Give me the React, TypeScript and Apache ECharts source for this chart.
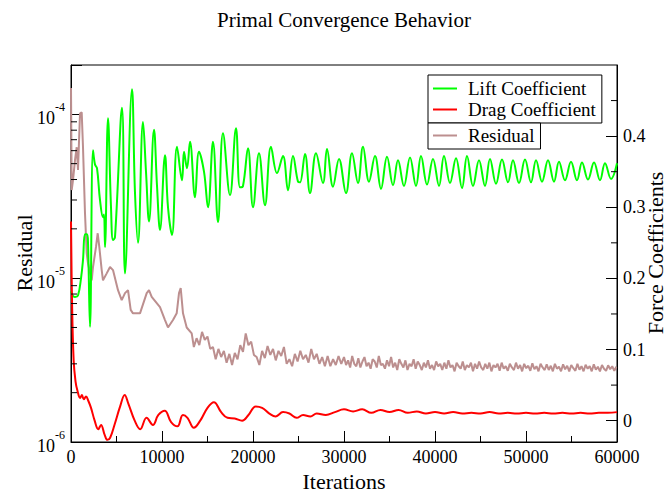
import React, { useEffect, useRef } from "react";
import * as echarts from "echarts";

// ---------- data ----------
const liftIter = [0,220,440,769,1099,1319,1538,1758,1868,2088,2418,2637,2857,3187,3516,3626,3736,4066,4396,4615,4835,5604,5934,6703,7033,7363,7912,8242,8571,9121,9451,9780,10330,10659,11099,11648,12198,12418,12747,13077,13626,14066,14615,15055,15604,16154,16703,17473,18132,18571,18901,19451,20000,20659,21319,21978,22637,23297,23846,24396,24945,25165,25714,26264,26923,27692,28132,28791,29451,30220,30879,31538,32088,32747,33407,34066,34725,35385,35934,36593,37253,37912,38462,39121,39780,40440,40989,41648,42308,42967,43516,44176,44835,45495,46044,46703,47363,48022,48571,49231,49890,50549,51099,51758,52418,53077,53626,54286,54945,55604,56154,56813,57473,58132,58681,59341,60000];
const liftVal = [0.182,0.175,0.174,0.176,0.2,0.226,0.262,0.262,0.25,0.132,0.38,0.36,0.355,0.31,0.286,0.29,0.244,0.425,0.3,0.254,0.258,0.44,0.207,0.466,0.32,0.25,0.42,0.35,0.28,0.409,0.33,0.268,0.373,0.3,0.261,0.385,0.338,0.378,0.355,0.392,0.314,0.378,0.35,0.3,0.392,0.279,0.404,0.317,0.411,0.328,0.33,0.383,0.3,0.376,0.303,0.385,0.348,0.372,0.324,0.372,0.336,0.335,0.375,0.32,0.376,0.334,0.382,0.329,0.368,0.32,0.376,0.334,0.385,0.336,0.372,0.326,0.371,0.331,0.366,0.33,0.37,0.33,0.372,0.332,0.368,0.33,0.372,0.334,0.369,0.327,0.372,0.33,0.366,0.33,0.368,0.333,0.367,0.335,0.366,0.334,0.367,0.335,0.366,0.336,0.366,0.336,0.364,0.338,0.364,0.338,0.363,0.339,0.363,0.338,0.362,0.34,0.362];

const dragIter = [0,110,290,500,710,1000,1200,1400,1650,1900,2200,2600,3000,3300,3700,4000,4300,4800,5400,5900,6300,7000,7600,8300,9000,9600,10300,11000,11700,12300,12800,13500,14200,15000,15700,16500,17200,18000,18800,19500,20300,21000,21800,22500,23300,24000,24800,25500,26300,27000,28000,29000,30000,31000,32000,33000,34000,35000,36000,37000,38000,39000,40000,41000,42000,43000,44000,45000,46000,47000,48000,49000,50000,51000,52000,53000,54000,55000,56000,57000,58000,59000,60000];
const dragVal = [0.28,0.17,0.085,0.055,0.042,0.032,0.036,0.03,0.034,0.028,0.018,0.0,-0.012,-0.006,-0.02,-0.027,-0.024,-0.005,0.02,0.036,0.024,0.0,-0.012,0.004,-0.006,0.008,0.014,-0.002,-0.008,0.008,0.004,-0.01,0.0,0.018,0.026,0.012,0.004,0.003,0.0,0.008,0.02,0.018,0.01,0.006,0.012,0.01,0.004,0.008,0.006,0.01,0.008,0.012,0.016,0.013,0.016,0.011,0.015,0.012,0.015,0.011,0.013,0.01,0.012,0.01,0.012,0.01,0.011,0.01,0.012,0.01,0.011,0.01,0.011,0.01,0.011,0.01,0.011,0.01,0.011,0.01,0.011,0.011,0.012];

const residualHeadIter = [0,77,220,440,626,770,990,1176,1319,1538,1725,1868,2275,2418,2747,2934,3110,3374,3516,3923,4286,4615,5165,5571,5934,6264,6560,6813,7582,8319,8571,8868,9780,10330,10659,11209,11615,11868,12055,12308,12714,13264];
const residualHeadVal = [1.45e-4,3.45e-5,3.96e-5,5.25e-5,6.3e-5,4.57e-5,1.01e-4,1.03e-4,6.3e-5,2.49e-5,1.42e-5,1.23e-5,9.7e-6,1.17e-5,1.55e-5,1.88e-5,1.55e-5,1.12e-5,9.7e-6,1.07e-5,1.17e-5,1.12e-5,8.45e-6,7.35e-6,8.1e-6,8.45e-6,6.4e-6,6.1e-6,6.1e-6,8.1e-6,8.45e-6,7.7e-6,6.65e-6,5.55e-6,5.0e-6,5.55e-6,6.1e-6,8.1e-6,8.7e-6,6.1e-6,5.0e-6,4.6e-6];
// middle part sampled every 300 iterations from 13500 (values in units of 1e-6)
const residualMidStart = 13500;
const residualMidStep = 300;
const residualMid = [3.8,4.3,3.9,4.7,4.2,4.4,3.7,3.8,3.2,3.7,3.3,3.6,3.05,3.45,2.95,3.5,3.2,3.9,3.55,4.6,3.9,4.1,3.4,3.3,2.95,3.6,3.25,3.85,3.4,3.7,3.15,3.6,3.35,3.8,3.0,3.2,2.9,3.45,3.1,3.6,3.2,3.4,3.05,3.7,3.2,3.45,3.0,3.3,2.9,3.35,2.9,3.2,2.95,3.35,3.0];
// tail sampled every 225 iterations from 30000 (values in units of 1e-6)
const residualTailStart = 30000;
const residualTailStep = 225;
const residualTail = [
  3.3,2.95,3.15,2.85,3.35,3.0,2.9,3.25,2.85,3.1,
  3.3,2.9,3.05,2.8,3.2,3.1,2.85,3.35,2.95,3.0,
  2.8,3.15,2.9,3.3,2.85,3.05,2.75,3.2,3.0,2.85,
  3.15,2.75,3.0,2.9,3.2,2.8,3.1,2.95,2.75,3.05,
  2.85,3.15,2.8,2.95,2.75,3.1,2.9,3.0,2.75,3.05,
  2.8,3.15,2.85,2.95,2.7,3.05,2.9,2.8,3.1,2.75,
  2.95,2.85,3.05,2.7,3.0,2.8,3.1,2.85,2.75,3.0,
  2.8,3.05,2.7,2.95,2.85,3.0,2.72,3.05,2.8,2.9,
  2.72,3.0,2.85,2.75,3.05,2.8,2.95,2.7,3.0,2.82,
  2.92,2.72,3.02,2.78,2.9,2.7,3.0,2.85,2.75,2.98,
  2.75,2.92,2.7,3.0,2.8,2.88,2.7,2.98,2.78,2.92,
  2.7,2.95,2.82,2.72,3.0,2.76,2.9,2.7,2.96,2.8,
  2.9,2.7,2.98,2.76,2.88,2.7,2.95,2.8,2.72,2.94,
  2.78,2.9,2.72,2.88,
];

const xTicks = [0, 10000, 20000, 30000, 40000, 50000, 60000];
const xMinorTicks = [5000, 15000, 25000, 35000, 45000, 55000];
const resMinorTicks = [2e-6,3e-6,4e-6,5e-6,6e-6,7e-6,8e-6,9e-6,2e-5,3e-5,4e-5,5e-5,6e-5,7e-5,8e-5,9e-5];
const forceMinorTicks = [0.05, 0.15, 0.25, 0.35, 0.45];

const SERIF = "Liberation Serif";

export default function App() {
  const ref = useRef<HTMLDivElement>(null);
  useEffect(() => {
    if (!ref.current) return;
    const chart = echarts.init(ref.current, undefined, { renderer: "svg" });

    const lift = liftIter.map((x, i) => [x, liftVal[i]]);
    const drag = dragIter.map((x, i) => [x, dragVal[i]]);
    const residual = residualHeadIter
      .map((x, i) => [x, residualHeadVal[i]])
      .concat(residualMid.map((v, i) => [residualMidStart + i * residualMidStep, v * 1e-6]))
      .concat(residualTail.map((v, i) => [residualTailStart + i * residualTailStep, v * 1e-6]));

    const tickLine = (len: number, dir: "up" | "right" | "left") =>
      (params: any, api: any) => {
        const p = api.coord([api.value(0), api.value(1)]);
        let x2 = p[0], y2 = p[1];
        if (dir === "up") y2 = p[1] - len;
        if (dir === "right") x2 = p[0] + len;
        if (dir === "left") x2 = p[0] - len;
        return { type: "line", shape: { x1: p[0], y1: p[1], x2, y2 }, style: { stroke: "#000", lineWidth: 1 } };
      };

    const isPow10 = (v: number) => {
      const l = Math.log10(v);
      return Math.abs(l - Math.round(l)) < 1e-6;
    };

    const txt = (size: number) => ({ fontFamily: SERIF, fontSize: size, fill: "#000", textAlign: "center", textVerticalAlign: "middle" });
    const legendText = { fontFamily: SERIF, fontSize: 19, color: "#000", lineHeight: 21, padding: [0, 0, 0, 6] };

    chart.setOption({
      animation: false,
      backgroundColor: "#fff",
      textStyle: { fontFamily: SERIF },
      grid: { left: 71, right: 53, top: 65, bottom: 54, show: true, borderColor: "#000", borderWidth: 1 },
      graphic: [
        { type: "text", x: 344, y: 20, style: { text: "Primal Convergence Behavior", ...txt(21) } },
        { type: "text", x: 344, y: 481, style: { text: "Iterations", ...txt(22) } },
        { type: "text", x: 24, y: 253, rotation: Math.PI / 2, style: { text: "Residual", ...txt(22) } },
        { type: "text", x: 655, y: 253, rotation: Math.PI / 2, style: { text: "Force Coefficients", ...txt(22) } },
      ],
      legend: [
        {
          data: ["Lift Coefficient", "Drag Coefficient"],
          orient: "vertical", left: 428, top: 75,
          icon: "rect", itemWidth: 24, itemHeight: 2, itemGap: 0,
          padding: [3, 6, 3, 5],
          borderColor: "#000", borderWidth: 1, borderRadius: 0, backgroundColor: "#fff",
          textStyle: legendText,
          selectedMode: false,
        },
        {
          data: ["Residual"],
          orient: "vertical", left: 428, top: 123,
          icon: "rect", itemWidth: 24, itemHeight: 2, itemGap: 0,
          padding: [2, 6, 3, 5],
          borderColor: "#000", borderWidth: 1, borderRadius: 0, backgroundColor: "#fff",
          textStyle: legendText,
          selectedMode: false,
        },
      ],
      xAxis: {
        type: "value", min: 0, max: 60000, interval: 10000,
        axisLine: { show: true, onZero: false, lineStyle: { color: "#000" } },
        axisTick: { show: true, inside: true, length: 11, lineStyle: { color: "#000" } },
        axisLabel: { fontFamily: SERIF, fontSize: 18, color: "#000", margin: 6,
          formatter: (v: number) => (xTicks.indexOf(v) >= 0 ? String(v) : "") },
        splitLine: { show: false },
      },
      yAxis: [
        {
          type: "log", logBase: 10, min: 1e-6, max: 2e-4, position: "left",
          axisLine: { show: true, onZero: false, lineStyle: { color: "#000" } },
          axisTick: { show: true, inside: true, length: 11, lineStyle: { color: "#000" } },
          axisLabel: {
            margin: 6, color: "#000",
            formatter: (v: number) => (isPow10(v) ? `{b|10}{s|${Math.round(Math.log10(v))}}` : ""),
            rich: {
              b: { fontFamily: SERIF, fontSize: 18, color: "#000", lineHeight: 26, verticalAlign: "bottom" },
              s: { fontFamily: SERIF, fontSize: 12, color: "#000", lineHeight: 26, verticalAlign: "top" },
            },
          },
          splitLine: { show: false },
        },
        {
          type: "value", min: -0.03, max: 0.5, splitNumber: 5, position: "right",
          axisLine: { show: true, onZero: false, lineStyle: { color: "#000" } },
          axisTick: { show: true, inside: true, length: 11, lineStyle: { color: "#000" } },
          axisLabel: { fontFamily: SERIF, fontSize: 18, color: "#000", margin: 6, showMinLabel: false, showMaxLabel: false,
            formatter: (v: number) => (Math.abs(v - Math.round(v * 10) / 10) < 1e-9 && v >= 0 && v <= 0.4 ? (Math.round(v * 10) / 10).toString() : "") },
          splitLine: { show: false },
        },
      ],
      series: [
        {
          name: "Residual", type: "line", xAxisIndex: 0, yAxisIndex: 0, data: residual,
          showSymbol: false, lineStyle: { color: "#bc8f8f", width: 2 }, itemStyle: { color: "#bc8f8f" }, z: 2,
        },
        {
          name: "Lift Coefficient", type: "line", xAxisIndex: 0, yAxisIndex: 1, data: lift, smooth: 0.4,
          showSymbol: false, lineStyle: { color: "#00ff00", width: 2 }, itemStyle: { color: "#00ff00" }, z: 3,
        },
        {
          name: "Drag Coefficient", type: "line", xAxisIndex: 0, yAxisIndex: 1, data: drag, smooth: 0.4,
          showSymbol: false, lineStyle: { color: "#ff0000", width: 2 }, itemStyle: { color: "#ff0000" }, z: 3,
        },
        {
          type: "custom", xAxisIndex: 0, yAxisIndex: 0, clip: false, silent: true, z: 5,
          data: resMinorTicks.map((v) => [0, v]), renderItem: tickLine(6, "right"),
        },
        {
          type: "custom", xAxisIndex: 0, yAxisIndex: 1, clip: false, silent: true, z: 5,
          data: forceMinorTicks.map((v) => [60000, v]), renderItem: tickLine(6, "left"),
        },
        {
          type: "custom", xAxisIndex: 0, yAxisIndex: 1, clip: false, silent: true, z: 5,
          data: xMinorTicks.map((v) => [v, -0.03]), renderItem: tickLine(6, "up"),
        },
      ],
    });
    return () => chart.dispose();
  }, []);
  return <div ref={ref} style={{ position: "fixed", left: 0, top: 0, width: 670, height: 496 }} />;
}
